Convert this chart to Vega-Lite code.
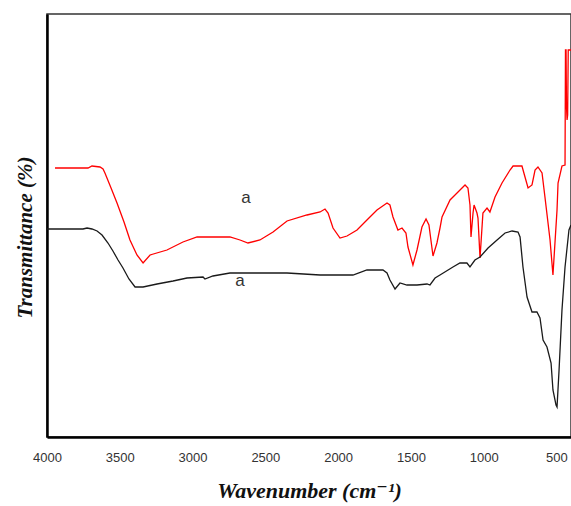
{
  "$schema": "https://vega.github.io/schema/vega-lite/v6.json",
  "autosize": "none",
  "padding": {"left": 47, "top": 14, "right": 0, "bottom": 69},
  "width": 524,
  "height": 423,
  "background": "white",
  "config": {
    "view": {"stroke": "#333", "strokeWidth": 1.5},
    "font": "Liberation Sans"
  },
  "datasets": {
    "spectra": [
      {"s": "red", "wn": 3945, "t": 269}, {"s": "red", "wn": 3842, "t": 269}, {"s": "red", "wn": 3718, "t": 269},
      {"s": "red", "wn": 3691, "t": 271}, {"s": "red", "wn": 3636, "t": 270}, {"s": "red", "wn": 3615, "t": 268},
      {"s": "red", "wn": 3602, "t": 264}, {"s": "red", "wn": 3560, "t": 249}, {"s": "red", "wn": 3519, "t": 234},
      {"s": "red", "wn": 3471, "t": 215}, {"s": "red", "wn": 3430, "t": 197}, {"s": "red", "wn": 3382, "t": 182},
      {"s": "red", "wn": 3340, "t": 174}, {"s": "red", "wn": 3292, "t": 182}, {"s": "red", "wn": 3176, "t": 187},
      {"s": "red", "wn": 3066, "t": 195}, {"s": "red", "wn": 2969, "t": 200}, {"s": "red", "wn": 2880, "t": 200},
      {"s": "red", "wn": 2743, "t": 200}, {"s": "red", "wn": 2674, "t": 197}, {"s": "red", "wn": 2619, "t": 194},
      {"s": "red", "wn": 2537, "t": 197}, {"s": "red", "wn": 2447, "t": 205}, {"s": "red", "wn": 2351, "t": 216},
      {"s": "red", "wn": 2214, "t": 222}, {"s": "red", "wn": 2124, "t": 225}, {"s": "red", "wn": 2090, "t": 228},
      {"s": "red", "wn": 2069, "t": 224}, {"s": "red", "wn": 2035, "t": 209}, {"s": "red", "wn": 1987, "t": 199},
      {"s": "red", "wn": 1939, "t": 201}, {"s": "red", "wn": 1870, "t": 207}, {"s": "red", "wn": 1802, "t": 217},
      {"s": "red", "wn": 1733, "t": 227}, {"s": "red", "wn": 1664, "t": 234}, {"s": "red", "wn": 1644, "t": 232},
      {"s": "red", "wn": 1623, "t": 220}, {"s": "red", "wn": 1589, "t": 207}, {"s": "red", "wn": 1561, "t": 209},
      {"s": "red", "wn": 1534, "t": 204}, {"s": "red", "wn": 1520, "t": 190}, {"s": "red", "wn": 1486, "t": 172},
      {"s": "red", "wn": 1458, "t": 187}, {"s": "red", "wn": 1424, "t": 210}, {"s": "red", "wn": 1396, "t": 218},
      {"s": "red", "wn": 1376, "t": 212}, {"s": "red", "wn": 1348, "t": 181}, {"s": "red", "wn": 1321, "t": 194},
      {"s": "red", "wn": 1300, "t": 209}, {"s": "red", "wn": 1286, "t": 220}, {"s": "red", "wn": 1231, "t": 237},
      {"s": "red", "wn": 1183, "t": 244}, {"s": "red", "wn": 1128, "t": 252}, {"s": "red", "wn": 1108, "t": 249},
      {"s": "red", "wn": 1094, "t": 232}, {"s": "red", "wn": 1087, "t": 200}, {"s": "red", "wn": 1073, "t": 224},
      {"s": "red", "wn": 1066, "t": 232}, {"s": "red", "wn": 1046, "t": 224}, {"s": "red", "wn": 1039, "t": 219},
      {"s": "red", "wn": 1025, "t": 179}, {"s": "red", "wn": 1005, "t": 224}, {"s": "red", "wn": 977, "t": 229},
      {"s": "red", "wn": 957, "t": 225}, {"s": "red", "wn": 922, "t": 240}, {"s": "red", "wn": 874, "t": 254},
      {"s": "red", "wn": 819, "t": 267}, {"s": "red", "wn": 798, "t": 271}, {"s": "red", "wn": 737, "t": 271},
      {"s": "red", "wn": 716, "t": 260}, {"s": "red", "wn": 695, "t": 249}, {"s": "red", "wn": 668, "t": 252},
      {"s": "red", "wn": 647, "t": 267}, {"s": "red", "wn": 627, "t": 270}, {"s": "red", "wn": 599, "t": 264},
      {"s": "red", "wn": 579, "t": 240}, {"s": "red", "wn": 544, "t": 197}, {"s": "red", "wn": 524, "t": 162},
      {"s": "red", "wn": 496, "t": 227}, {"s": "red", "wn": 489, "t": 254}, {"s": "red", "wn": 462, "t": 271},
      {"s": "red", "wn": 441, "t": 272}, {"s": "red", "wn": 438, "t": 387}, {"s": "red", "wn": 434, "t": 387},
      {"s": "red", "wn": 431, "t": 330}, {"s": "red", "wn": 427, "t": 317}, {"s": "red", "wn": 423, "t": 322},
      {"s": "red", "wn": 419, "t": 387}, {"s": "red", "wn": 400, "t": 387},
      {"s": "black", "wn": 4000, "t": 208}, {"s": "black", "wn": 3753, "t": 208}, {"s": "black", "wn": 3725, "t": 209},
      {"s": "black", "wn": 3691, "t": 208}, {"s": "black", "wn": 3656, "t": 206}, {"s": "black", "wn": 3622, "t": 202},
      {"s": "black", "wn": 3581, "t": 194}, {"s": "black", "wn": 3547, "t": 186}, {"s": "black", "wn": 3512, "t": 177},
      {"s": "black", "wn": 3478, "t": 169}, {"s": "black", "wn": 3437, "t": 158}, {"s": "black", "wn": 3395, "t": 150},
      {"s": "black", "wn": 3340, "t": 150}, {"s": "black", "wn": 3244, "t": 153}, {"s": "black", "wn": 3134, "t": 156},
      {"s": "black", "wn": 3038, "t": 159}, {"s": "black", "wn": 2928, "t": 160}, {"s": "black", "wn": 2915, "t": 158},
      {"s": "black", "wn": 2860, "t": 161}, {"s": "black", "wn": 2743, "t": 164}, {"s": "black", "wn": 2351, "t": 164},
      {"s": "black", "wn": 2124, "t": 162}, {"s": "black", "wn": 1898, "t": 162}, {"s": "black", "wn": 1802, "t": 167},
      {"s": "black", "wn": 1692, "t": 167}, {"s": "black", "wn": 1664, "t": 164}, {"s": "black", "wn": 1644, "t": 157},
      {"s": "black", "wn": 1609, "t": 148}, {"s": "black", "wn": 1575, "t": 154}, {"s": "black", "wn": 1527, "t": 152},
      {"s": "black", "wn": 1458, "t": 152}, {"s": "black", "wn": 1389, "t": 153}, {"s": "black", "wn": 1369, "t": 152},
      {"s": "black", "wn": 1334, "t": 159}, {"s": "black", "wn": 1300, "t": 162}, {"s": "black", "wn": 1211, "t": 170},
      {"s": "black", "wn": 1163, "t": 174}, {"s": "black", "wn": 1115, "t": 174}, {"s": "black", "wn": 1094, "t": 170},
      {"s": "black", "wn": 1060, "t": 177}, {"s": "black", "wn": 1025, "t": 180}, {"s": "black", "wn": 970, "t": 189},
      {"s": "black", "wn": 908, "t": 197}, {"s": "black", "wn": 853, "t": 204}, {"s": "black", "wn": 805, "t": 206},
      {"s": "black", "wn": 764, "t": 205}, {"s": "black", "wn": 750, "t": 200}, {"s": "black", "wn": 730, "t": 170},
      {"s": "black", "wn": 702, "t": 140}, {"s": "black", "wn": 668, "t": 125}, {"s": "black", "wn": 634, "t": 125},
      {"s": "black", "wn": 613, "t": 119}, {"s": "black", "wn": 592, "t": 97}, {"s": "black", "wn": 565, "t": 90},
      {"s": "black", "wn": 537, "t": 74}, {"s": "black", "wn": 524, "t": 47}, {"s": "black", "wn": 503, "t": 32},
      {"s": "black", "wn": 496, "t": 30}, {"s": "black", "wn": 482, "t": 67}, {"s": "black", "wn": 462, "t": 127},
      {"s": "black", "wn": 441, "t": 170}, {"s": "black", "wn": 414, "t": 207}, {"s": "black", "wn": 400, "t": 212}
    ],
    "labels": [
      {"wn": 2633, "t": 239, "label": "a"},
      {"wn": 2674, "t": 156, "label": "a"}
    ]
  },
  "layer": [
    {
      "data": {"name": "spectra"},
      "mark": {"type": "line", "strokeWidth": 1.3, "interpolate": "linear"},
      "encoding": {
        "x": {
          "field": "wn", "type": "quantitative",
          "scale": {"domain": [4000, 400], "nice": false, "zero": false},
          "axis": {
            "title": "Wavenumber (cm⁻¹)",
            "values": [4000, 3500, 3000, 2500, 2000, 1500, 1000, 500],
            "format": "d",
            "grid": false, "ticks": false,
            "domainColor": "#000", "domainWidth": 2.5,
            "labelFont": "Liberation Sans", "labelFontSize": 13, "labelColor": "#333",
            "labelPadding": 14, "labelFlush": false,
            "titleFont": "Liberation Serif, DejaVu Serif", "titleFontSize": 22, "titleFontStyle": "italic",
            "titleFontWeight": "bold", "titleColor": "#111", "titlePadding": 16
          }
        },
        "y": {
          "field": "t", "type": "quantitative",
          "scale": {"domain": [0, 423], "nice": false, "zero": false},
          "axis": {
            "title": "Transmittance (%)",
            "labels": false, "ticks": false, "grid": false,
            "domainColor": "#000", "domainWidth": 2.5,
            "titleFont": "Liberation Serif", "titleFontSize": 21, "titleFontStyle": "italic",
            "titleFontWeight": "bold", "titleColor": "#111", "titlePadding": 12,
            "titleY": 223
          }
        },
        "color": {
          "field": "s", "type": "nominal",
          "scale": {"domain": ["red", "black"], "range": ["#ff0000", "#1a1a1a"]},
          "legend": null
        }
      }
    },
    {
      "data": {"name": "labels"},
      "mark": {"type": "text", "font": "Liberation Sans", "fontSize": 17, "color": "#333", "baseline": "middle", "align": "center"},
      "encoding": {
        "x": {"field": "wn", "type": "quantitative"},
        "y": {"field": "t", "type": "quantitative"},
        "text": {"field": "label"}
      }
    }
  ]
}
